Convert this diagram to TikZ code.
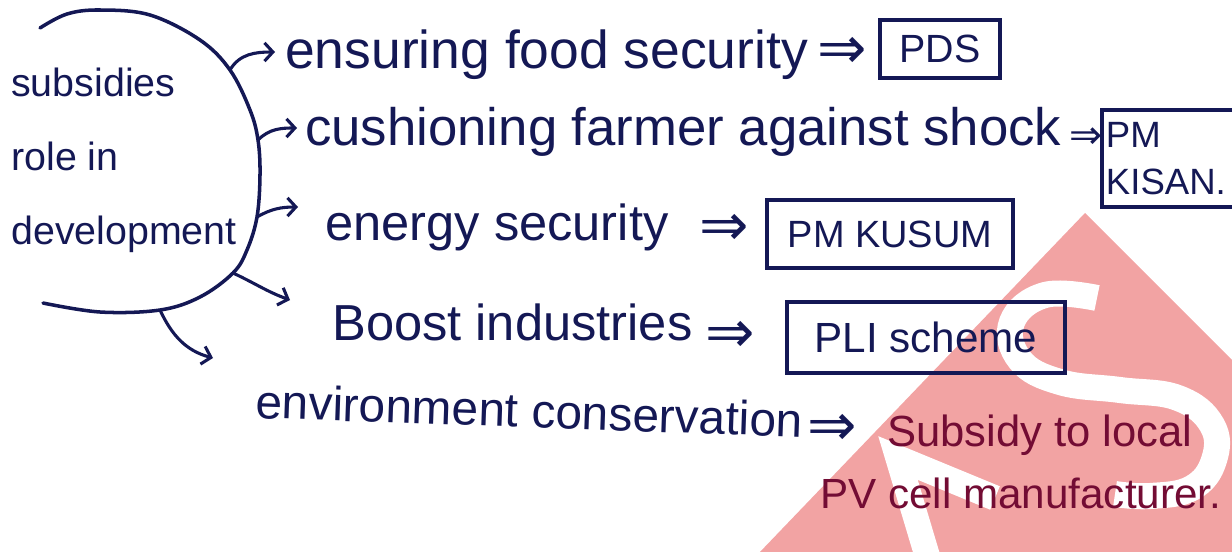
\documentclass[tikz,border=0pt]{standalone}
\usepackage{fontspec}
\setmainfont{Liberation Sans}
\newfontfamily\arrowfont{DejaVu Sans}
\usetikzlibrary{arrows.meta,calc}
\definecolor{ink}{RGB}{20,24,85}
\definecolor{redink}{RGB}{115,12,52}
\definecolor{wmpink}{RGB}{242,163,163}
\tikzset{
  hand/.style={inner sep=0pt, anchor=base west, text=ink},
  fs/.style={font=\fontsize{#1}{#1}\selectfont},
  implies/.style={inner sep=0pt, text=ink, font=\arrowfont\fontsize{42}{42}\selectfont},
  scheme/.style={draw=ink, line width=2.4pt, inner sep=0pt, text=ink},
  branch/.style={draw=ink, line width=2.2pt, -{Straight Barb[length=6pt,width=13pt]}},
}
\begin{document}
\begin{tikzpicture}[x=0.025cm,y=-0.025cm]
\useasboundingbox (0,0) rectangle (1232,552);
% watermark
\begin{scope}
  \clip (1085,213) -- (1474,602) -- (712,602) -- cycle;
  \fill[wmpink] (1085,213) -- (1474,602) -- (712,602) -- cycle;
  \draw[white, line width=18.5pt] plot[smooth, tension=0.7] coordinates {(1097,298) (1045,295) (1012,322) (1020,360) (1060,382) (1120,390) (1178,398) (1212,425) (1214,460) (1192,488) (1150,496) (1115,494)};
  \draw[white, line width=18pt, line join=miter] (930,565) -- (898,458) -- (995,498);
\end{scope}
% central arc
\draw[ink, line width=2.5pt, line cap=round] plot[smooth, tension=0.6] coordinates {(40,28) (67,14) (100,10) (150,15) (200,40) (230,70) (250,110) (258,140) (260,175) (257,217) (247,250) (233,273) (200,297) (160,310) (100,312) (43,303)};
\coordinate (a1) at (230,70);
\coordinate (a2) at (258,140);
\coordinate (a3) at (257,217);
\coordinate (a4) at (233,273);
\coordinate (a5) at (160,310);
\node[inner sep=0pt, text=ink, align=left, font=\fontsize{28}{52.6}\selectfont] (core) at (124,160) {subsidies\\role in\\development};
% items
\node[hand, fs=38] (t1) at (285,68) {ensuring food security};
\node[hand, fs=37.5] (t2) at (305,145) {cushioning farmer against shock};
\node[hand, fs=36] (t3) at (325,240) {energy security};
\node[hand, fs=36] (t4) at (332,340) {Boost industries};
\node[hand, fs=34, rotate=-2] (t5) at (255,418) {environment conservation};
% implies signs
\node[implies] (e1) at (842,53) {⇒};
\node[implies, font=\arrowfont\fontsize{28}{28}\selectfont] (e2) at (1086,138) {⇒};
\node[implies] (e3) at (724,230) {⇒};
\node[implies] (e4) at (730,337) {⇒};
\node[implies] (e5) at (832,430) {⇒};
% schemes
\node[scheme, minimum width=3.0cm, minimum height=1.45cm, fs=28] (b1) at (940,49) {PDS};
\node[scheme, text width=3.8cm, inner xsep=0.1cm, minimum height=2.425cm, align=left, font=\fontsize{26}{33}\selectfont] (b2) at (1182,158.5) {PM\\KISAN.};
\node[scheme, minimum width=6.15cm, minimum height=1.7cm, fs=27] (b3) at (890,234) {PM KUSUM};
\node[scheme, minimum width=6.95cm, minimum height=1.775cm, fs=30] (b4) at (926,337.5) {PLI scheme};
% red answer
\node[hand, text=redink, fs=31] (r1) at (887,446) {Subsidy to local};
\node[hand, text=redink, fs=30] (r2) at (820,508) {PV cell manufacturer.};
% branches
\draw[branch] (a1) to[out=60,in=180] ($(t1.base west)+(-10,-16)$);
\draw[branch] (a2) to[out=45,in=180] ($(t2.base west)+(-8,-17)$);
\draw[branch] (a3) to[out=30,in=180] ($(t3.base west)+(-27,-33)$);
\draw[branch] (a4) to[out=-25,in=160] ($(t4.base west)+(-42,-40)$);
\draw[branch] (a5) to[out=-65,in=165] ($(t5.base west)+(-42,-60)$);
\end{tikzpicture}
\end{document}
